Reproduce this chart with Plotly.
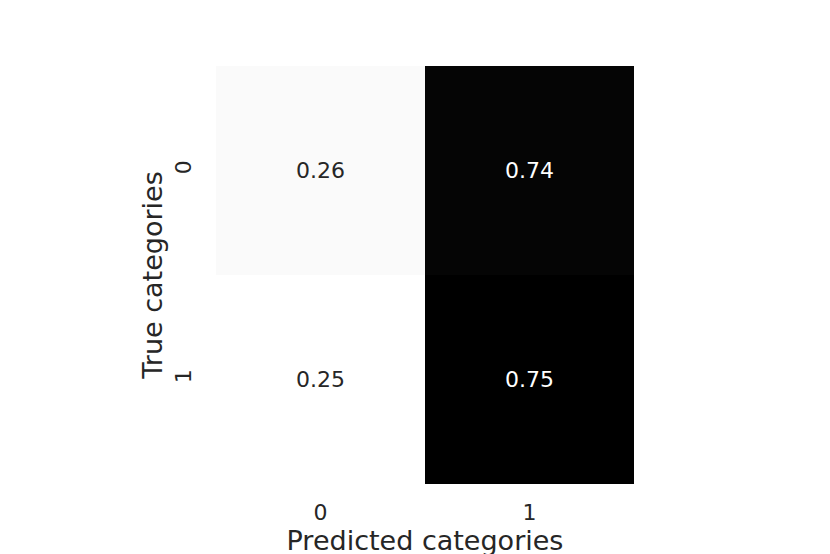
import plotly.graph_objs as go

predicted = ['0', '1']
true_cats = ['0', '1']
rates = [[0.26, 0.74],
         [0.25, 0.75]]

FONT = 'DejaVu Sans'
TEXT = '#262626'


def _cell_labels(z):
    notes = []
    lo, hi = min(map(min, z)), max(map(max, z))
    for i, row in enumerate(z):
        for j, v in enumerate(row):
            dark = (v - lo) / (hi - lo) > 0.5
            notes.append(dict(x=predicted[j], y=true_cats[i], text='%.2f' % v,
                              showarrow=False, xref='x', yref='y',
                              font=dict(family=FONT, size=22,
                                        color='white' if dark else TEXT)))
    return notes


trace = go.Heatmap(
    x=predicted, y=true_cats, z=rates,
    colorscale=[[0, '#ffffff'], [1, '#000000']],
    showscale=False, xgap=0, ygap=0,
    hoverinfo='skip'
)

layout = go.Layout(
    width=830, height=554,
    margin=dict(l=208, r=204, t=58, b=78),
    paper_bgcolor='white', plot_bgcolor='white',
    font=dict(family=FONT, color=TEXT),
    xaxis=dict(
        title=dict(text='Predicted categories', font=dict(size=27), standoff=6),
        tickfont=dict(size=22), showgrid=False, zeroline=False,
        ticks='', ticklen=0, showline=False, ticklabelstandoff=13
    ),
    yaxis=dict(
        title=dict(text='True categories', font=dict(size=27), standoff=0),
        tickfont=dict(size=22), tickangle=-90, autorange='reversed',
        showgrid=False, zeroline=False, ticks='', showline=False,
        ticklabelstandoff=20
    ),
    annotations=_cell_labels(rates)
)

fig = go.Figure(data=[trace], layout=layout)
fig.write_html('out.html')
